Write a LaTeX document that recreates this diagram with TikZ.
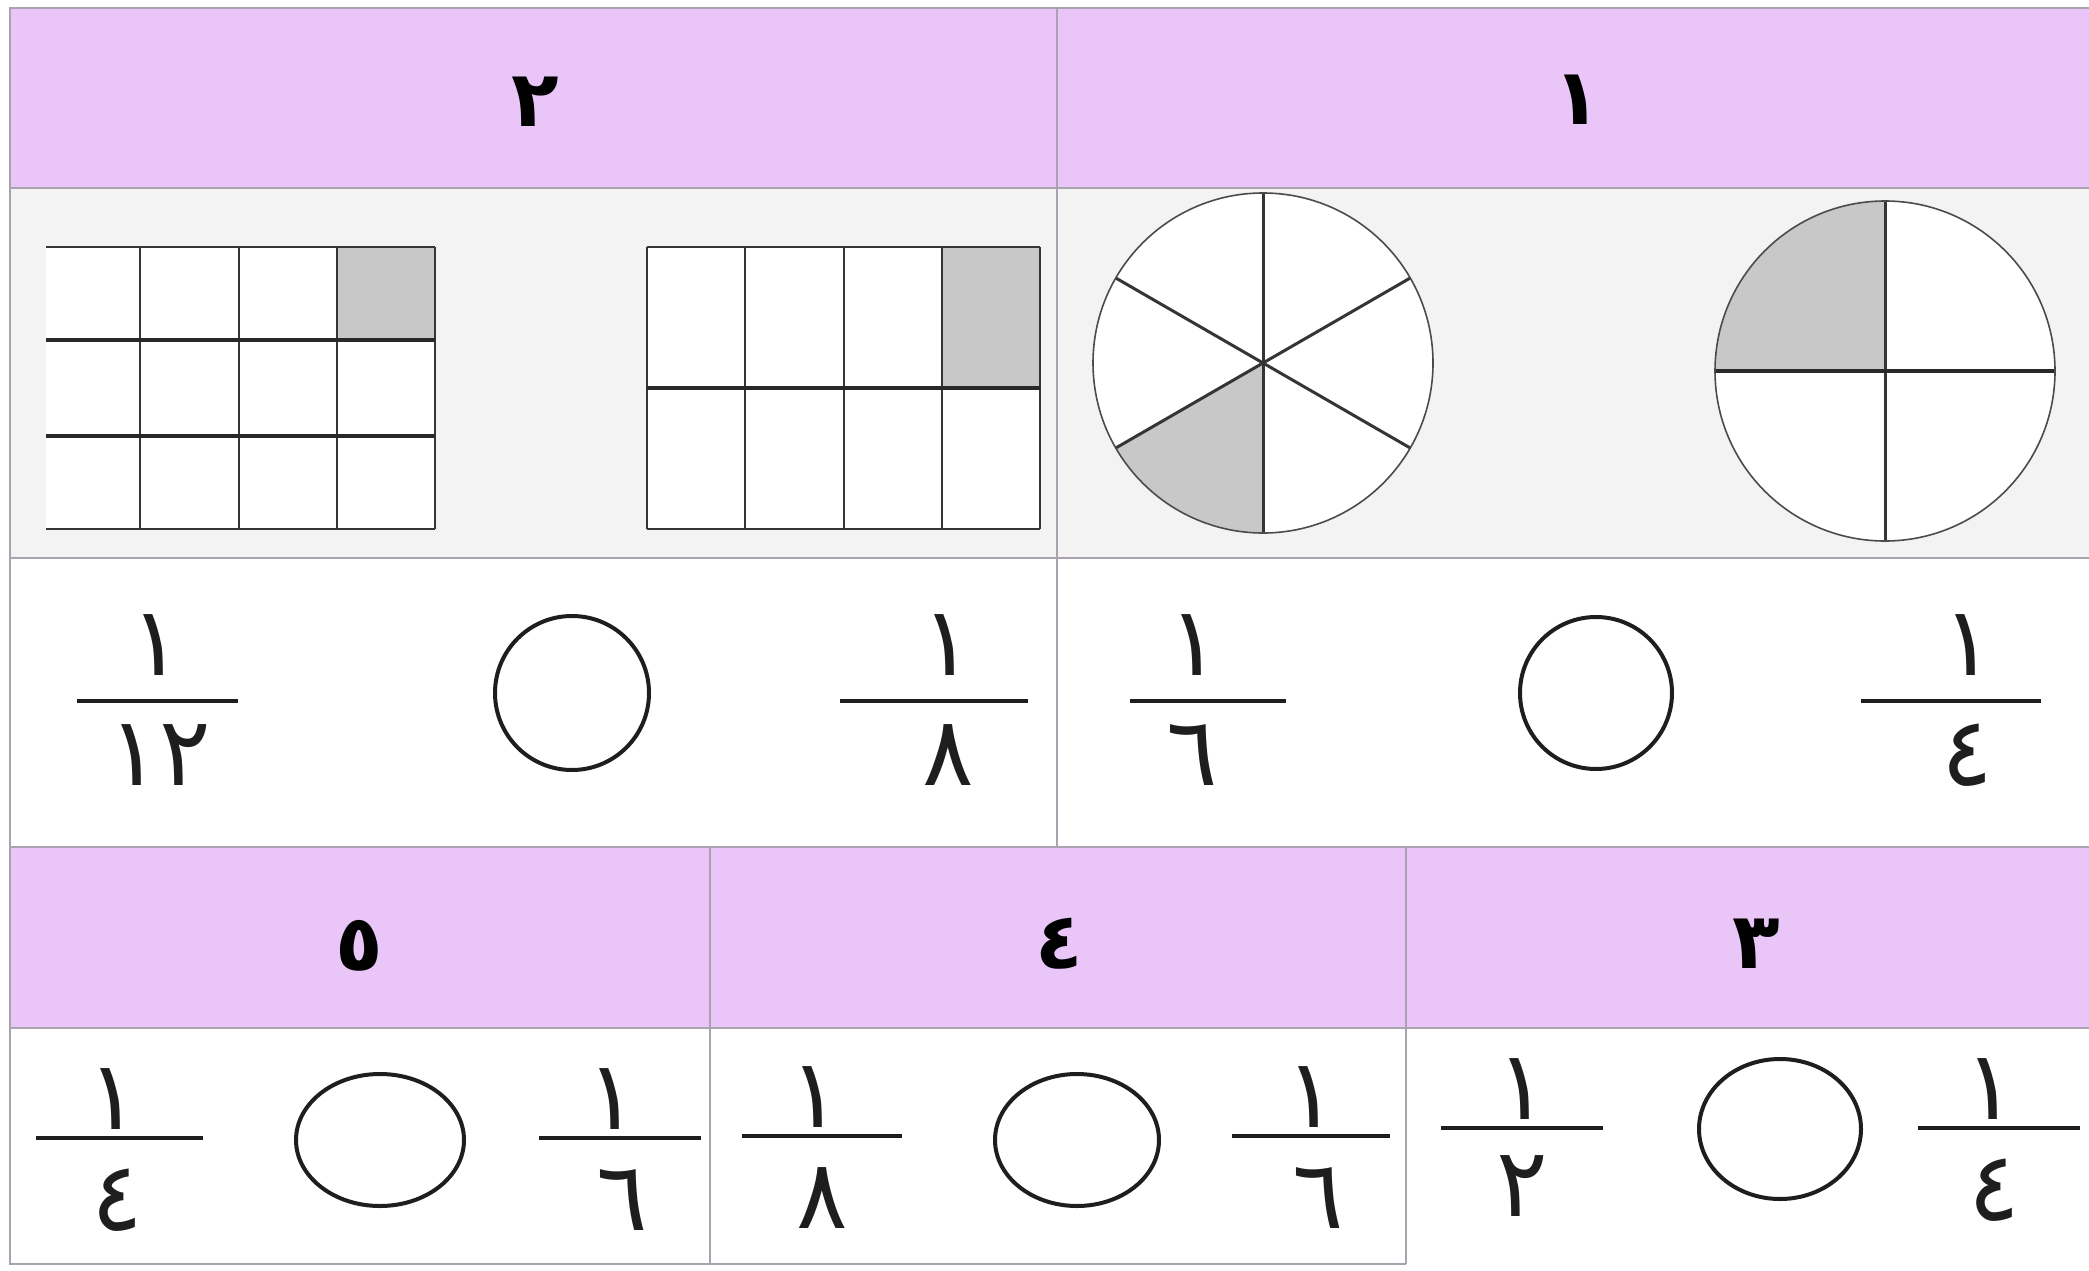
\documentclass[tikz,border=0pt]{standalone}
\usepackage{fontspec}
\newfontfamily\arabicfont[Script=Arabic]{DejaVu Sans}
\usetikzlibrary{calc}
\definecolor{hdr}{RGB}{234,198,248}
\definecolor{rowgray}{RGB}{243,243,244}
\definecolor{bordergray}{RGB}{170,162,174}
\definecolor{partgray}{RGB}{200,200,200}
\definecolor{ink}{RGB}{30,30,30}
\tikzset{
  tbl/.style={draw=bordergray, line width=2.5pt},
  gridv/.style={draw=ink!90, line width=2.5pt},
  gridh/.style={draw=ink!95, line width=4pt},
  spoke/.style={draw=ink!90, line width=3pt},
  rim/.style={draw=ink!80, line width=1.6pt},
  blank/.style={draw=ink, line width=4pt},
  fbar/.style={draw=ink, line width=4pt},
  num/.style={font=\arabicfont\fontsize{96}{96}\selectfont, inner sep=0pt, text=ink},
  hnum/.style={font=\arabicfont\bfseries\fontsize{78}{78}\selectfont, inner sep=0pt, text=black},
}
\begin{document}
\begin{tikzpicture}[x=1pt,y=-1pt]
\useasboundingbox (0,0) rectangle (2089,1271);
\fill[white] (0,0) rectangle (2089,1271);
% backgrounds
\fill[hdr] (10,8) rectangle (2089,188);
\fill[rowgray] (10,188) rectangle (2089,558);
\fill[white] (10,558) rectangle (2089,847);
\fill[hdr] (10,847) rectangle (2089,1028);
\fill[white] (10,1028) rectangle (2089,1264);
% table lines
\draw[tbl] (2089,8) -- (10,8) -- (10,1264) -- (1406,1264);
\draw[tbl] (10,188) -- (2089,188);
\draw[tbl] (10,558) -- (2089,558);
\draw[tbl] (10,847) -- (2089,847);
\draw[tbl] (10,1028) -- (2089,1028);
\draw[tbl] (1057,8) -- (1057,847);
\draw[tbl] (710,847) -- (710,1264);
\draw[tbl] (1406,847) -- (1406,1264);
% headers
\node[hnum] (h2) at (535,102) {٢};
\node[hnum] (h1) at (1577,100) {١};
\node[hnum] (h5) at (359,946) {٥};
\node[hnum] (h4) at (1059,944) {٤};
\node[hnum] (h3) at (1756,944) {٣};
% left grid 3x4
\fill[white] (46,247) rectangle (435,529);
\fill[partgray] (337,247) rectangle (435,340);
\foreach \x in {140,239,337,435} \draw[gridv] (\x,247) -- (\x,529);
\foreach \y in {340,436} \draw[gridh] (46,\y) -- (435,\y);
\foreach \y in {247,529} \draw[gridv] (46,\y) -- (435,\y);
% right grid 2x4
\fill[white] (647,247) rectangle (1040,529);
\fill[partgray] (942,247) rectangle (1040,388);
\foreach \x in {647,745,844,942,1040} \draw[gridv] (\x,247) -- (\x,529);
\foreach \y in {247,529} \draw[gridv] (647,\y) -- (1040,\y);
\draw[gridh] (647,388) -- (1040,388);
% circle in sixths
\coordinate (c1) at (1263,363);
\fill[white] (c1) circle[radius=170];
\fill[partgray] (c1) -- plot[domain=90:150,samples=40] ({1263+170*cos(\x)},{363+170*sin(\x)}) -- cycle;
\foreach \a in {30,90,150} \draw[spoke] ($(c1)+(\a:170)$) -- ($(c1)+(\a+180:170)$);
\draw[rim] (c1) circle[radius=170];
% circle in quarters
\coordinate (c2) at (1885,371);
\fill[white] (c2) circle[radius=170];
\fill[partgray] (c2) -- plot[domain=180:270,samples=40] ({1885+170*cos(\x)},{371+170*sin(\x)}) -- cycle;
\draw[spoke] ($(c2)+(0,-170)$) -- ($(c2)+(0,170)$);
\draw[gridh] ($(c2)+(-170,0)$) -- ($(c2)+(170,0)$);
\draw[rim] (c2) circle[radius=170];
% comparison circles
\draw[blank] (572,693) circle[radius=77];
\draw[blank] (1596,693) circle[radius=76];
\draw[blank] (380,1140) ellipse[x radius=84, y radius=66];
\draw[blank] (1077,1140) ellipse[x radius=82, y radius=66];
\draw[blank] (1780,1129) ellipse[x radius=81, y radius=70];
% fractions top row
\draw[fbar] (77,701) -- (238,701);
\node[num] (a1) at (156,645) {١};
\node[num] (a2) at (160,755) {١٢};
\draw[fbar] (840,701) -- (1028,701);
\node[num] (b1) at (947,645) {١};
\node[num] (b2) at (948,755) {٨};
\draw[fbar] (1130,701) -- (1286,701);
\node[num] (c1n) at (1194,645) {١};
\node[num] (c2n) at (1192,755) {٦};
\draw[fbar] (1861,701) -- (2041,701);
\node[num] (d1) at (1968,645) {١};
\node[num] (d2) at (1967,755) {٤};
% fractions bottom row
\draw[fbar] (36,1138) -- (203,1138);
\node[num] (e1) at (113,1099) {١};
\node[num] (e2) at (117,1200) {٤};
\draw[fbar] (539,1138) -- (701,1138);
\node[num] (f1) at (612,1099) {١};
\node[num] (f2) at (622,1200) {٦};
\draw[fbar] (742,1136) -- (902,1136);
\node[num] (g1) at (815,1097) {١};
\node[num] (g2) at (822,1198) {٨};
\draw[fbar] (1232,1136) -- (1390,1136);
\node[num] (k1) at (1311,1097) {١};
\node[num] (k2) at (1318,1198) {٦};
\draw[fbar] (1441,1128) -- (1603,1128);
\node[num] (m1) at (1522,1089) {١};
\node[num] (m2) at (1522,1186) {٢};
\draw[fbar] (1918,1128) -- (2080,1128);
\node[num] (p1) at (1990,1089) {١};
\node[num] (p2) at (1994,1190) {٤};
\end{tikzpicture}
\end{document}
